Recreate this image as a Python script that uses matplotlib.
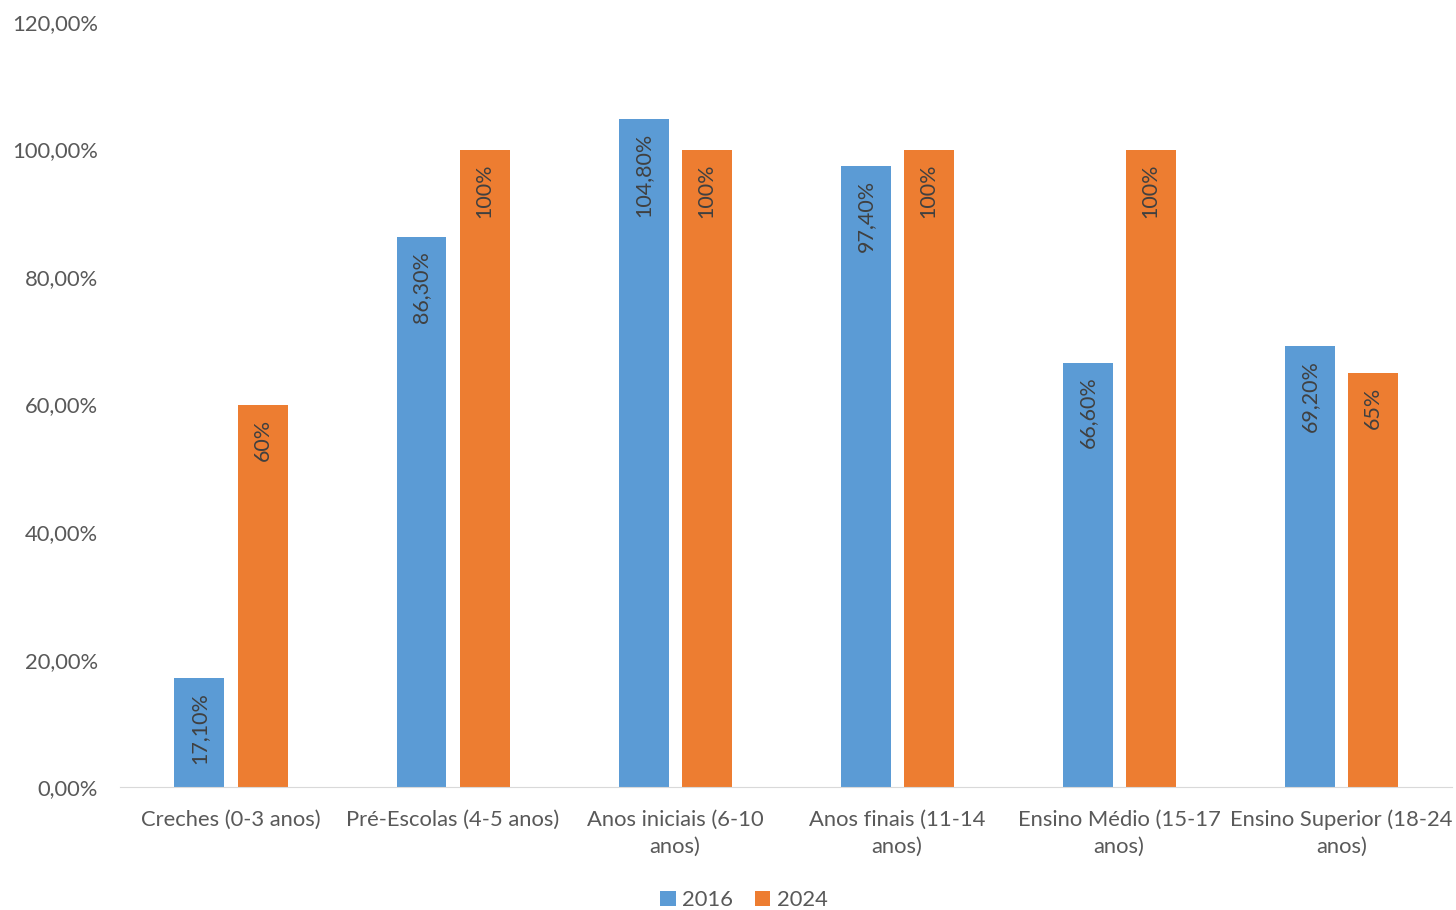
import matplotlib.pyplot as plt
import numpy as np

plt.rcParams['font.family'] = ['Lato', 'DejaVu Sans']

categorias = ['Creches (0-3 anos)', 'Pré-Escolas (4-5 anos)', 'Anos iniciais (6-10\nanos)',
              'Anos finais (11-14\nanos)', 'Ensino Médio (15-17\nanos)', 'Ensino Superior (18-24\nanos)']
v2016 = [17.1, 86.3, 104.8, 97.4, 66.6, 69.2]
v2024 = [60, 100, 100, 100, 100, 65]
rot2016 = ['17,10%', '86,30%', '104,80%', '97,40%', '66,60%', '69,20%']
rot2024 = ['60%', '100%', '100%', '100%', '100%', '65%']

azul = '#5B9BD5'
laranja = '#ED7D31'
cinza = '#595959'

fig = plt.figure(figsize=(14.56, 9.1), dpi=100)
ax = fig.add_axes([0.0824, 0.135, 0.915, 0.8408])

x = np.arange(len(categorias))
w = 0.225
b1 = ax.bar(x - 0.142, v2016, w, color=azul, label='2016')
b2 = ax.bar(x + 0.142, v2024, w, color=laranja, label='2024')

for bars, labs in [(b1, rot2016), (b2, rot2024)]:
    for b, t in zip(bars, labs):
        ax.annotate(t, (b.get_x() + b.get_width() / 2, b.get_height()),
                    xytext=(0, -10), textcoords='offset points',
                    rotation=90, ha='center', va='top', fontsize=15.5, color='#404040')

ax.set_xlim(-0.5, 5.5)
ax.set_ylim(0, 120)
ax.set_yticks(np.arange(0, 121, 20))
ax.set_yticklabels([f'{v},00%' for v in range(0, 121, 20)])
ax.set_xticks(x)
ax.set_xticklabels(categorias, linespacing=1.45)
ax.tick_params(axis='both', length=0, labelsize=15.8, labelcolor=cinza)
ax.tick_params(axis='y', pad=16)
ax.tick_params(axis='x', pad=16)

for s in ['top', 'right', 'left']:
    ax.spines[s].set_visible(False)
ax.spines['bottom'].set_color('#D9D9D9')

fig.legend(loc='lower center', ncol=2, frameon=False, fontsize=15.8,
           bbox_to_anchor=(0.511, -0.022), handlelength=0.7, handleheight=0.7,
           handletextpad=0.3, columnspacing=1.0, labelcolor=cinza)

fig.savefig('out.png', dpi=100)
